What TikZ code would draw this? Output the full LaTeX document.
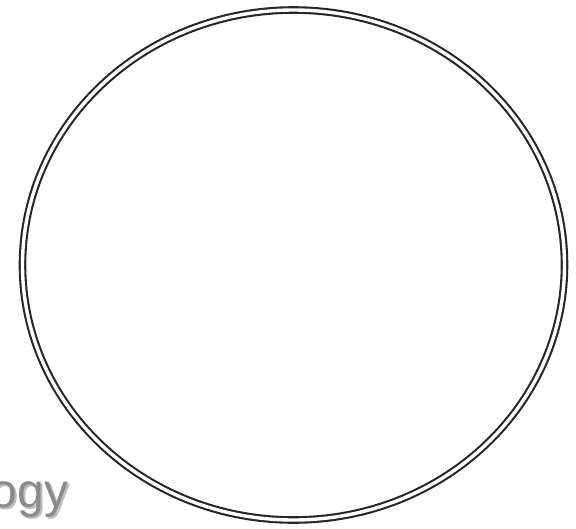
\documentclass[tikz,border=0pt]{standalone}
\usepackage{fontspec}
\setmainfont{Liberation Sans}
\definecolor{txtgray}{HTML}{8A8A8A}
\definecolor{shadowgray}{HTML}{BDBDBD}
\definecolor{ringcol}{HTML}{262626}
\begin{document}
\begin{tikzpicture}[x=1pt,y=-1pt,
  ring/.style={draw=ringcol,line width=2.1pt,double=white,double distance=3.4pt},
  word/.style={font=\fontsize{48}{48}\selectfont,inner sep=0pt,anchor=base east}]
\useasboundingbox (0,0) rectangle (576,528);
\node[word,text=shadowgray] (wordshadow) at (70.5,509) {ogy};
\node[word,text=txtgray] (word) at (68.5,507) {ogy};
\draw[ring] (293.5,265) ellipse [x radius=271,y radius=255];
\end{tikzpicture}
\end{document}
